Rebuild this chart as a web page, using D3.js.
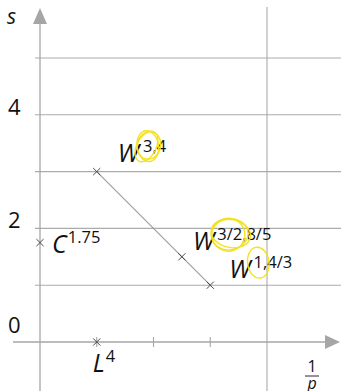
<!DOCTYPE html>
<html>
<head>
<meta charset="utf-8">
<script src="https://cdn.jsdelivr.net/npm/d3@7"></script>
<style>
  html, body { margin: 0; padding: 0; background: #fff; }
  svg { display: block; }
  text { font-family: "Open Sans", "DejaVu Sans", sans-serif; fill: #111; }
</style>
</head>
<body>
<svg id="chart" width="341" height="391"></svg>
<script>
// Sobolev-type spaces placed in the (1/p, s) plane
const spaceNames   = ["W", "W", "W", "C", "L"];
const spaceSupers  = ["3,4", "3/2,8/5", "1,4/3", "1.75", "4"];
const invP         = [1/4, 5/8, 3/4, 0, 1/4];
const smoothness   = [3, 1.5, 1, 1.75, 0];
// part of the superscript that is circled
const circledPart  = ["3", "3/2", "1", "", ""];

// embedding segment between W^{3,4} and W^{1,4/3}
const segmentFrom = [1/4, 3];
const segmentTo   = [3/4, 1];

const yTickLabels = [0, 2, 4];
const yGrid       = [1, 2, 3, 4, 5];
const xTicks      = [1/4, 1/2, 3/4];

const W = 341, H = 391;
const svg = d3.select("#chart");

const x = d3.scaleLinear().domain([0, 1]).range([40, 267]);
const y = d3.scaleLinear().domain([0, 5]).range([342, 58]);

const gridColor = "#ababab";
const axisColor = "#a6a6a6";

// horizontal grid lines
svg.append("g").selectAll("line").data(yGrid).join("line")
  .attr("x1", x(0) - 5).attr("x2", W)
  .attr("y1", d => y(d)).attr("y2", d => y(d))
  .attr("stroke", gridColor).attr("stroke-width", 1.1);

// vertical line at 1/p = 1
svg.append("line")
  .attr("x1", x(1)).attr("x2", x(1))
  .attr("y1", 7).attr("y2", H)
  .attr("stroke", gridColor).attr("stroke-width", 1.1);

// y axis with arrow
svg.append("line")
  .attr("x1", x(0)).attr("x2", x(0))
  .attr("y1", H).attr("y2", 22)
  .attr("stroke", axisColor).attr("stroke-width", 1.3);
svg.append("path")
  .attr("d", `M${x(0)},8 L${x(0) - 7},24 L${x(0) + 7},24 Z`)
  .attr("fill", axisColor);

// x axis with arrow
svg.append("line")
  .attr("x1", 13).attr("x2", 327)
  .attr("y1", y(0)).attr("y2", y(0))
  .attr("stroke", axisColor).attr("stroke-width", 1.6);
svg.append("path")
  .attr("d", `M340,${y(0)} L325,${y(0) - 7} L325,${y(0) + 7} Z`)
  .attr("fill", axisColor);

// x ticks
svg.append("g").selectAll("line").data(xTicks).join("line")
  .attr("x1", d => x(d)).attr("x2", d => x(d))
  .attr("y1", y(0) - 5).attr("y2", y(0) + 5)
  .attr("stroke", axisColor).attr("stroke-width", 1.1);

// y tick labels
svg.append("g").selectAll("text").data(yTickLabels).join("text")
  .attr("x", 8)
  .attr("y", d => Math.min(y(d), y(0) - 9))
  .attr("font-size", 22)
  .text(d => d);

// axis titles
svg.append("text").attr("x", 7).attr("y", 24)
  .attr("font-size", 21).attr("font-style", "italic").text("s");
svg.append("text").attr("x", 312).attr("y", 372)
  .attr("font-size", 16).attr("text-anchor", "middle").text("1");
svg.append("line").attr("x1", 305).attr("x2", 319)
  .attr("y1", 376).attr("y2", 376)
  .attr("stroke", "#111").attr("stroke-width", 0.9);
svg.append("text").attr("x", 312).attr("y", 389)
  .attr("font-size", 16).attr("font-style", "italic").attr("text-anchor", "middle").text("p");

// segment
svg.append("line")
  .attr("x1", x(segmentFrom[0])).attr("y1", y(segmentFrom[1]))
  .attr("x2", x(segmentTo[0])).attr("y2", y(segmentTo[1]))
  .attr("stroke", "#9a9a9a").attr("stroke-width", 1.1);

// point markers (crosses)
const pts = invP.map((v, i) => ({
  i, px: x(v), py: y(smoothness[i]),
  name: spaceNames[i], sup: spaceSupers[i], circ: circledPart[i]
}));
const cs = 3.6;
svg.append("g").selectAll("path").data(pts).join("path")
  .attr("d", d => `M${d.px - cs},${d.py - cs}L${d.px + cs},${d.py + cs}M${d.px - cs},${d.py + cs}L${d.px + cs},${d.py - cs}`)
  .attr("stroke", "#4a4a4a").attr("stroke-width", 1);

// label placement relative to each marker
const labelOffset = [[21, -10], [11, -7], [19, -7], [12, 10], [-4, 30]];
const supGap = [4, 3, 3, 1, 1];

const labels = svg.append("g");
const circles = [];
pts.forEach((d, k) => {
  const lx = d.px + labelOffset[k][0];
  const ly = d.py + labelOffset[k][1];
  const main = labels.append("text")
    .attr("x", lx).attr("y", ly)
    .attr("font-size", 25).attr("font-style", "italic")
    .text(d.name);
  const mw = main.node().getComputedTextLength();
  const sup = labels.append("text")
    .attr("x", lx + mw + supGap[k]).attr("y", ly - 10)
    .attr("font-size", 16.5);
  if (d.circ) {
    const t1 = sup.append("tspan").text(d.circ);
    sup.append("tspan").text(d.sup.slice(d.circ.length));
    circles.push(t1.node().getBBox());
  } else {
    sup.text(d.sup);
  }
});

// yellow hand-drawn circles around highlighted exponents
const hl = svg.append("g").attr("fill", "none")
  .attr("stroke", "#f4e016").attr("stroke-width", 1.4).attr("opacity", 0.95);
const loops = [[1.0, 1.0, -8, 0, 0], [1.08, 0.9, 12, 1, -1], [0.9, 1.06, 28, -1, 1]];
circles.forEach((b, ci) => {
  const cx = b.x + b.width / 2, cy = b.y + b.height / 2 + 1;
  const rx = b.width / 2 + 6, ry = b.height / 2 + 4;
  const n = ci === 2 ? 1 : 3;
  loops.slice(0, n).forEach(l => {
    hl.append("ellipse")
      .attr("cx", cx + l[3]).attr("cy", cy + l[4])
      .attr("rx", rx * l[0]).attr("ry", ry * l[1])
      .attr("transform", `rotate(${l[2]},${cx},${cy})`);
  });
});
</script>
</body>
</html>
